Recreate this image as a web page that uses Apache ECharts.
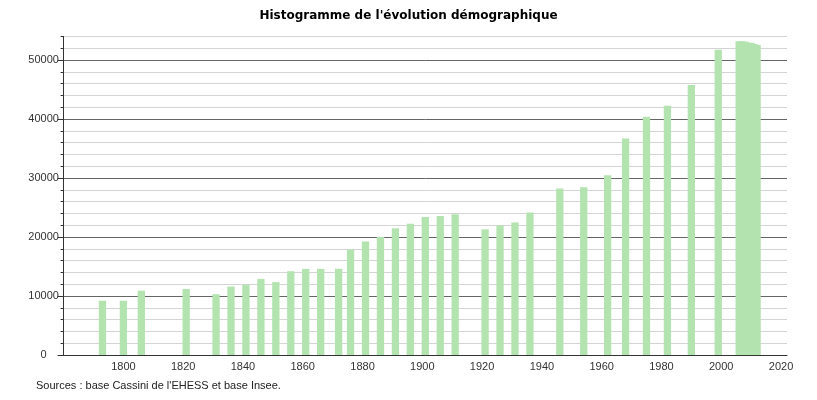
<!DOCTYPE html>
<html>
<head>
<meta charset="utf-8">
<script src="https://cdn.jsdelivr.net/npm/echarts@6/dist/echarts.min.js"></script>
<style>html,body{margin:0;padding:0;background:#fff}#c{width:817px;height:400px}</style>
</head>
<body>
<div id="c"></div>
<script>
const years = [1793,1800,1806,1821,1831,1836,1841,1846,1851,1856,1861,1866,1872,1876,1881,1886,1891,1896,1901,1906,1911,1921,1926,1931,1936,1946,1954,1962,1968,1975,1982,1990,1999,2006,2007,2008,2009,2010,2011,2012];
const population = [9200,9200,10900,11200,10300,11600,11900,12900,12350,14200,14600,14600,14600,17900,19250,20000,21500,22250,23400,23550,23850,21300,21950,22450,24150,28200,28450,30450,36700,40400,42250,45750,51750,53170,53170,53100,52930,52930,52710,52540];
const xTickLabels = [1800,1820,1840,1860,1880,1900,1920,1940,1960,1980,2000,2020];
const yTickLabels = [0,10000,20000,30000,40000,50000];
const titleText = "Histogramme de l'évolution démographique";
const sourceText = "Sources : base Cassini de l'EHESS et base Insee.";

const chart = echarts.init(document.getElementById('c'), null, {renderer:'canvas'});
chart.setOption({
  animation: false,
  backgroundColor: '#ffffff',
  title: {
    text: titleText, left: 'center', top: 5,
    textStyle: {fontFamily: 'DejaVu Sans', fontWeight: 'bold', fontSize: 12, color: '#000'}
  },
  grid: {left: 63.6, right: 30, top: 36.4, bottom: 45, containLabel: false},
  xAxis: {
    type: 'value', min: 1780, max: 2022, interval: 20,
    axisLine: {show: true, onZero: false, lineStyle: {color: '#333', width: 1}},
    axisTick: {show: false},
    splitLine: {show: false},
    axisLabel: {
      customValues: xTickLabels, margin: 6,
      fontFamily: 'Liberation Sans', fontSize: 11, color: '#333',
      formatter: v => String(v)
    }
  },
  yAxis: [
    {
      type: 'value', min: 0, max: 54000, interval: 2000, position: 'left',
      axisLine: {show: true, lineStyle: {color: '#333', width: 1}},
      axisTick: {show: true, length: 3, lineStyle: {color: '#333'}},
      axisLabel: {show: false},
      splitLine: {show: true, lineStyle: {color: ['#666666','#d4d4d4','#d4d4d4','#d4d4d4','#d4d4d4'], width: 1}}
    },
    {
      type: 'value', min: 0, max: 54000, interval: 2000, position: 'left', offset: 0,
      axisLine: {show: false},
      axisTick: {show: true, length: 6, customValues: yTickLabels, lineStyle: {color: '#333'}},
      axisLabel: {
        customValues: yTickLabels, margin: 20, align: 'center',
        fontFamily: 'Liberation Sans', fontSize: 11, color: '#333',
        formatter: v => String(v)
      },
      splitLine: {show: false}
    }
  ],
  series: [{
    type: 'bar', yAxisIndex: 0,
    data: years.map((y, i) => [y, population[i]]),
    barWidth: 7.3,
    itemStyle: {color: '#b3e4b0'}
  }],
  graphic: [{
    type: 'text', left: 36, top: 380,
    style: {text: sourceText, fontFamily: 'Liberation Sans', fontSize: 11, fill: '#222'}
  }]
});
</script>
</body>
</html>
